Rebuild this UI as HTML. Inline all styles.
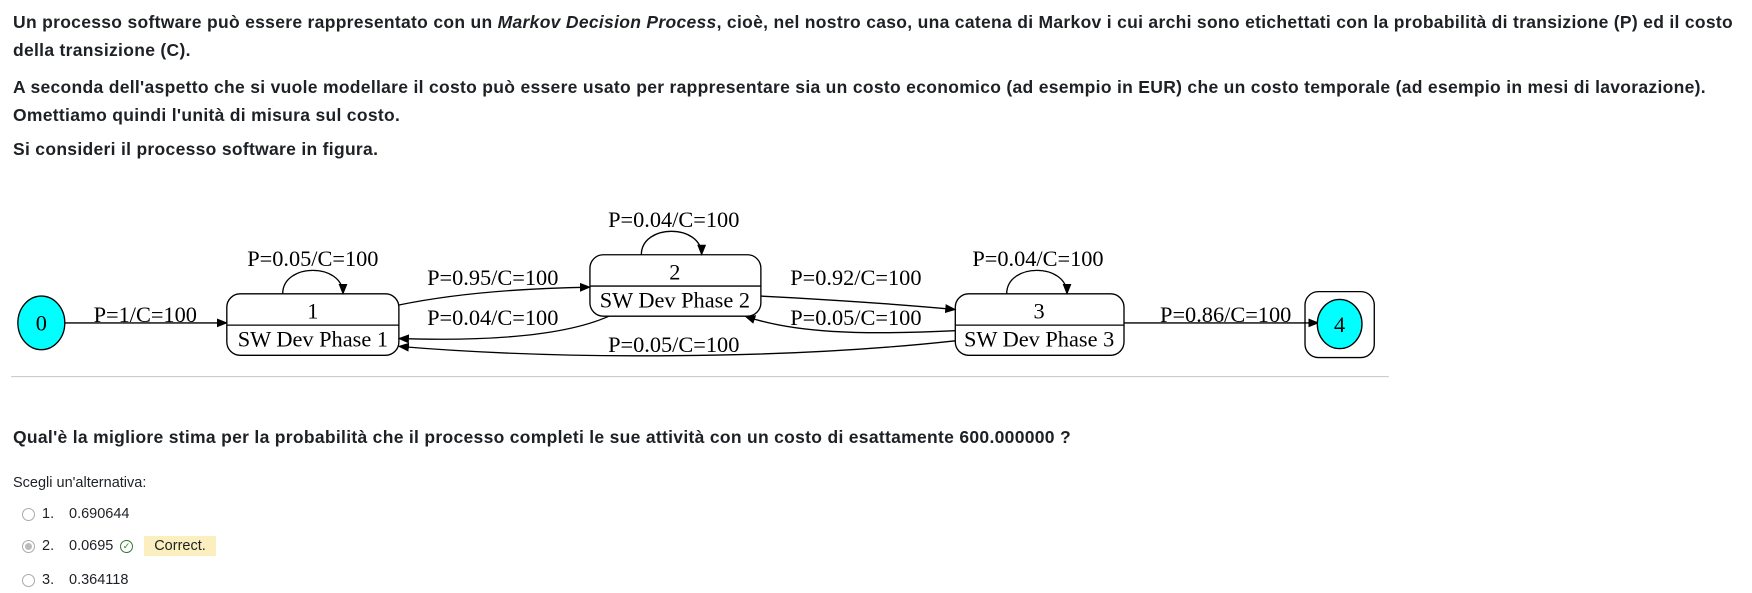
<!DOCTYPE html>
<html><head><meta charset="utf-8"><style>
body{margin:0;width:1752px;height:593px;background:#fff;font-family:"Liberation Sans",sans-serif;color:#1d2125;position:relative;overflow:hidden}
.t{position:absolute;left:13px;font-size:17.5px;line-height:20px;font-weight:bold;white-space:nowrap;color:#1d2125;letter-spacing:0.3px}
.s{position:absolute;font-size:14.5px;line-height:18px;white-space:nowrap}
.r{position:absolute;left:22px;width:13px;height:13px;border:1px solid #aaa;border-radius:50%;box-sizing:border-box}
svg text{font-family:"Liberation Serif",serif;font-size:20px;fill:#000}
</style></head><body>
<div class="t" style="top:12px">Un processo software può essere rappresentato con un <i>Markov Decision Process</i>, cioè, nel nostro caso, una catena di Markov i cui archi sono etichettati con la probabilità di transizione (P) ed il costo</div>
<div class="t" style="top:40px">della transizione (C).</div>
<div class="t" style="top:77px">A seconda dell'aspetto che si vuole modellare il costo può essere usato per rappresentare sia un costo economico (ad esempio in EUR) che un costo temporale (ad esempio in mesi di lavorazione).</div>
<div class="t" style="top:105px">Omettiamo quindi l'unità di misura sul costo.</div>
<div class="t" style="top:139px">Si consideri il processo software in figura.</div>

<svg style="position:absolute;left:0;top:0" width="1752" height="400">
<defs><marker id="a" markerWidth="10" markerHeight="8" refX="9" refY="4" orient="auto" markerUnits="userSpaceOnUse"><path d="M0,0L10,4L0,8z" fill="#000"/></marker></defs>
<g transform="scale(1.1173)">
<g fill="none" stroke="#000" stroke-width="1.2">
<ellipse cx="37" cy="289" rx="21" ry="24" fill="#00ffff"/>
<path d="M58,289H203" marker-end="url(#a)"/>
<rect x="203" y="263" width="154" height="55" rx="12"/>
<path d="M203,291H357"/>
<path d="M253,263C253,235 307,235 307,263" marker-end="url(#a)"/>
<rect x="528" y="228" width="153" height="55" rx="12"/>
<path d="M528,256H681"/>
<path d="M574,228C574,200 628,200 628,228" marker-end="url(#a)"/>
<rect x="855" y="263" width="151" height="55" rx="12"/>
<path d="M855,291H1006"/>
<path d="M901,263C901,235 955,235 955,263" marker-end="url(#a)"/>
<path d="M357,273C410,262 470,258 528,257" marker-end="url(#a)"/>
<path d="M545,283C500,303 420,305 357,303" marker-end="url(#a)"/>
<path d="M681,265C740,268 800,272 855,277" marker-end="url(#a)"/>
<path d="M855,296C770,300 710,298 667,283" marker-end="url(#a)"/>
<path d="M855,305C700,322 500,322 357,310" marker-end="url(#a)"/>
<path d="M1006,289H1180" marker-end="url(#a)"/>
<rect x="1168" y="261" width="62" height="59" rx="12"/>
<ellipse cx="1199" cy="290" rx="20" ry="22" fill="#00ffff"/>
</g>
<text x="37" y="296" text-anchor="middle">0</text>
<text x="1199" y="297" text-anchor="middle">4</text>
<text x="280" y="285" text-anchor="middle">1</text>
<text x="280" y="310" text-anchor="middle">SW Dev Phase 1</text>
<text x="604" y="250" text-anchor="middle">2</text>
<text x="604" y="275" text-anchor="middle">SW Dev Phase 2</text>
<text x="930" y="285" text-anchor="middle">3</text>
<text x="930" y="310" text-anchor="middle">SW Dev Phase 3</text>
<text x="130" y="288" text-anchor="middle">P=1/C=100</text>
<text x="280" y="238" text-anchor="middle">P=0.05/C=100</text>
<text x="603" y="203" text-anchor="middle">P=0.04/C=100</text>
<text x="929" y="238" text-anchor="middle">P=0.04/C=100</text>
<text x="441" y="255" text-anchor="middle">P=0.95/C=100</text>
<text x="441" y="291" text-anchor="middle">P=0.04/C=100</text>
<text x="766" y="255" text-anchor="middle">P=0.92/C=100</text>
<text x="766" y="291" text-anchor="middle">P=0.05/C=100</text>
<text x="603" y="315" text-anchor="middle">P=0.05/C=100</text>
<text x="1097" y="288" text-anchor="middle">P=0.86/C=100</text>
<line x1="10" y1="337" x2="1243" y2="337" stroke="#ccc" stroke-width="1"/>
</g>
</svg>

<div class="t" style="top:427px">Qual'è la migliore stima per la probabilità che il processo completi le sue attività con un costo di esattamente 600.000000 ?</div>
<div class="s" style="left:13px;top:474px">Scegli un'alternativa:</div>
<div class="r" style="top:508px"></div><div class="s" style="left:42px;top:505px">1.</div><div class="s" style="left:69px;top:505px">0.690644</div>
<div class="r" style="top:540px"><div style="width:7px;height:7px;background:#bbb;border-radius:50%;margin:2px"></div></div>
<div class="s" style="left:42px;top:537px">2.</div><div class="s" style="left:69px;top:537px">0.0695</div>
<div style="position:absolute;left:120px;top:540px;width:13px;height:13px;border:1.3px solid #357a32;border-radius:50%;box-sizing:border-box;font-size:9px;line-height:11px;text-align:center;color:#357a32">✓</div>
<div class="s" style="left:144px;top:536px;width:72px;height:20px;line-height:20px;background:#fcefbf;text-align:center">Correct.</div>
<div class="r" style="top:574px"></div><div class="s" style="left:42px;top:571px">3.</div><div class="s" style="left:69px;top:571px">0.364118</div>
</body></html>
